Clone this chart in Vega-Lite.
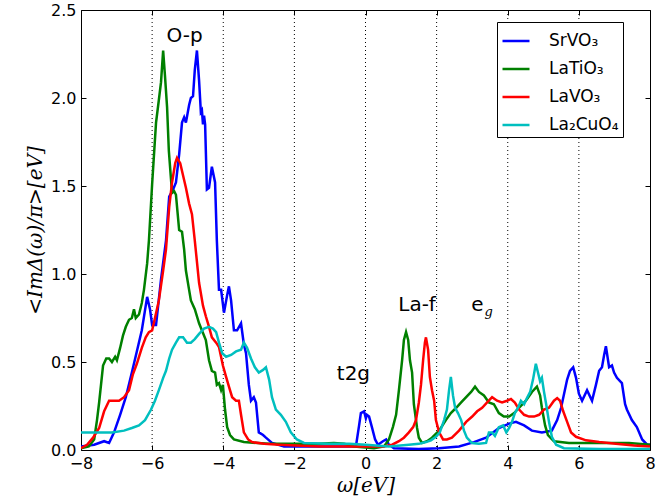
{
"$schema": "https://vega.github.io/schema/vega-lite/v6.json",
"width": 569, "height": 440,
"autosize": "none",
"padding": {"left": 81, "top": 10, "right": 20, "bottom": 54},
"background": "white",
"config": {"view": {"stroke": "black", "strokeWidth": 1}, "font": "DejaVu Sans"},
"datasets": {
"grid": [{"omega": -6}, {"omega": -4}, {"omega": -2}, {"omega": 0}, {"omega": 2}, {"omega": 4}, {"omega": 6}],
"labels": [
{"label": "O-p", "omega": -5.09, "dos": 2.32},
{"label": "t2g", "omega": -0.34, "dos": 0.40},
{"label": "La-f", "omega": 1.45, "dos": 0.79},
{"label": "e", "omega": 3.15, "dos": 0.79}
],
"sub": [{"label": "g", "omega": 3.46, "dos": 0.76}],
"dos": [
{"series":"SrVO₃","omega":-8.0,"dos":0.02},{"series":"SrVO₃","omega":-7.63,"dos":0.03},{"series":"SrVO₃","omega":-7.35,"dos":0.05},{"series":"SrVO₃","omega":-7.21,"dos":0.04},{"series":"SrVO₃","omega":-7.07,"dos":0.10},{"series":"SrVO₃","omega":-6.90,"dos":0.20},{"series":"SrVO₃","omega":-6.74,"dos":0.30},{"series":"SrVO₃","omega":-6.57,"dos":0.44},{"series":"SrVO₃","omega":-6.43,"dos":0.56},{"series":"SrVO₃","omega":-6.29,"dos":0.68},{"series":"SrVO₃","omega":-6.14,"dos":0.87},{"series":"SrVO₃","omega":-6.06,"dos":0.80},{"series":"SrVO₃","omega":-6.0,"dos":0.71},{"series":"SrVO₃","omega":-5.89,"dos":0.71},{"series":"SrVO₃","omega":-5.75,"dos":0.97},{"series":"SrVO₃","omega":-5.61,"dos":1.19},{"series":"SrVO₃","omega":-5.52,"dos":1.44},{"series":"SrVO₃","omega":-5.41,"dos":1.48},{"series":"SrVO₃","omega":-5.33,"dos":1.52},{"series":"SrVO₃","omega":-5.24,"dos":1.68},{"series":"SrVO₃","omega":-5.16,"dos":1.86},{"series":"SrVO₃","omega":-5.10,"dos":1.89},{"series":"SrVO₃","omega":-5.05,"dos":1.86},{"series":"SrVO₃","omega":-4.96,"dos":1.96},{"series":"SrVO₃","omega":-4.91,"dos":2.00},{"series":"SrVO₃","omega":-4.85,"dos":2.01},{"series":"SrVO₃","omega":-4.80,"dos":2.16},{"series":"SrVO₃","omega":-4.74,"dos":2.27},{"series":"SrVO₃","omega":-4.68,"dos":2.10},{"series":"SrVO₃","omega":-4.63,"dos":1.92},{"series":"SrVO₃","omega":-4.60,"dos":1.93},{"series":"SrVO₃","omega":-4.57,"dos":1.85},{"series":"SrVO₃","omega":-4.54,"dos":1.90},{"series":"SrVO₃","omega":-4.51,"dos":1.85},{"series":"SrVO₃","omega":-4.46,"dos":1.48},{"series":"SrVO₃","omega":-4.40,"dos":1.49},{"series":"SrVO₃","omega":-4.32,"dos":1.61},{"series":"SrVO₃","omega":-4.23,"dos":1.52},{"series":"SrVO₃","omega":-4.18,"dos":1.19},{"series":"SrVO₃","omega":-4.12,"dos":0.91},{"series":"SrVO₃","omega":-4.06,"dos":0.91},{"series":"SrVO₃","omega":-3.98,"dos":0.78},{"series":"SrVO₃","omega":-3.89,"dos":0.88},{"series":"SrVO₃","omega":-3.84,"dos":0.93},{"series":"SrVO₃","omega":-3.78,"dos":0.85},{"series":"SrVO₃","omega":-3.70,"dos":0.68},{"series":"SrVO₃","omega":-3.61,"dos":0.68},{"series":"SrVO₃","omega":-3.50,"dos":0.72},{"series":"SrVO₃","omega":-3.42,"dos":0.60},{"series":"SrVO₃","omega":-3.36,"dos":0.55},{"series":"SrVO₃","omega":-3.28,"dos":0.37},{"series":"SrVO₃","omega":-3.22,"dos":0.28},{"series":"SrVO₃","omega":-3.14,"dos":0.30},{"series":"SrVO₃","omega":-3.08,"dos":0.27},{"series":"SrVO₃","omega":-3.0,"dos":0.10},{"series":"SrVO₃","omega":-2.88,"dos":0.085},{"series":"SrVO₃","omega":-2.80,"dos":0.07},{"series":"SrVO₃","omega":-2.63,"dos":0.04},{"series":"SrVO₃","omega":-2.29,"dos":0.02},{"series":"SrVO₃","omega":-1.31,"dos":0.02},{"series":"SrVO₃","omega":-0.46,"dos":0.02},{"series":"SrVO₃","omega":-0.27,"dos":0.02},{"series":"SrVO₃","omega":-0.18,"dos":0.14},{"series":"SrVO₃","omega":-0.13,"dos":0.21},{"series":"SrVO₃","omega":-0.04,"dos":0.22},{"series":"SrVO₃","omega":0.01,"dos":0.18},{"series":"SrVO₃","omega":0.04,"dos":0.20},{"series":"SrVO₃","omega":0.10,"dos":0.19},{"series":"SrVO₃","omega":0.18,"dos":0.13},{"series":"SrVO₃","omega":0.27,"dos":0.06},{"series":"SrVO₃","omega":0.35,"dos":0.03},{"series":"SrVO₃","omega":0.49,"dos":0.05},{"series":"SrVO₃","omega":0.58,"dos":0.06},{"series":"SrVO₃","omega":0.66,"dos":0.03},{"series":"SrVO₃","omega":0.80,"dos":0.01},{"series":"SrVO₃","omega":1.50,"dos":0.005},{"series":"SrVO₃","omega":2.07,"dos":0.01},{"series":"SrVO₃","omega":2.63,"dos":0.02},{"series":"SrVO₃","omega":3.05,"dos":0.045},{"series":"SrVO₃","omega":3.39,"dos":0.07},{"series":"SrVO₃","omega":3.75,"dos":0.125},{"series":"SrVO₃","omega":4.04,"dos":0.15},{"series":"SrVO₃","omega":4.23,"dos":0.16},{"series":"SrVO₃","omega":4.46,"dos":0.14},{"series":"SrVO₃","omega":4.68,"dos":0.11},{"series":"SrVO₃","omega":4.96,"dos":0.10},{"series":"SrVO₃","omega":5.24,"dos":0.11},{"series":"SrVO₃","omega":5.39,"dos":0.17},{"series":"SrVO₃","omega":5.50,"dos":0.24},{"series":"SrVO₃","omega":5.67,"dos":0.40},{"series":"SrVO₃","omega":5.75,"dos":0.45},{"series":"SrVO₃","omega":5.84,"dos":0.47},{"series":"SrVO₃","omega":5.92,"dos":0.41},{"series":"SrVO₃","omega":6.00,"dos":0.32},{"series":"SrVO₃","omega":6.09,"dos":0.28},{"series":"SrVO₃","omega":6.23,"dos":0.34},{"series":"SrVO₃","omega":6.37,"dos":0.28},{"series":"SrVO₃","omega":6.48,"dos":0.37},{"series":"SrVO₃","omega":6.57,"dos":0.45},{"series":"SrVO₃","omega":6.65,"dos":0.47},{"series":"SrVO₃","omega":6.71,"dos":0.54},{"series":"SrVO₃","omega":6.76,"dos":0.59},{"series":"SrVO₃","omega":6.82,"dos":0.51},{"series":"SrVO₃","omega":6.85,"dos":0.47},{"series":"SrVO₃","omega":6.93,"dos":0.48},{"series":"SrVO₃","omega":6.99,"dos":0.44},{"series":"SrVO₃","omega":7.07,"dos":0.41},{"series":"SrVO₃","omega":7.21,"dos":0.38},{"series":"SrVO₃","omega":7.30,"dos":0.26},{"series":"SrVO₃","omega":7.35,"dos":0.23},{"series":"SrVO₃","omega":7.49,"dos":0.17},{"series":"SrVO₃","omega":7.63,"dos":0.13},{"series":"SrVO₃","omega":7.78,"dos":0.06},{"series":"SrVO₃","omega":7.92,"dos":0.03},{"series":"SrVO₃","omega":8.0,"dos":0.03},
{"series":"LaTiO₃","omega":-8.0,"dos":0.01},{"series":"LaTiO₃","omega":-7.78,"dos":0.02},{"series":"LaTiO₃","omega":-7.63,"dos":0.06},{"series":"LaTiO₃","omega":-7.55,"dos":0.17},{"series":"LaTiO₃","omega":-7.49,"dos":0.27},{"series":"LaTiO₃","omega":-7.38,"dos":0.48},{"series":"LaTiO₃","omega":-7.29,"dos":0.52},{"series":"LaTiO₃","omega":-7.21,"dos":0.52},{"series":"LaTiO₃","omega":-7.13,"dos":0.50},{"series":"LaTiO₃","omega":-7.04,"dos":0.53},{"series":"LaTiO₃","omega":-6.99,"dos":0.51},{"series":"LaTiO₃","omega":-6.90,"dos":0.58},{"series":"LaTiO₃","omega":-6.82,"dos":0.65},{"series":"LaTiO₃","omega":-6.74,"dos":0.70},{"series":"LaTiO₃","omega":-6.65,"dos":0.74},{"series":"LaTiO₃","omega":-6.57,"dos":0.75},{"series":"LaTiO₃","omega":-6.51,"dos":0.80},{"series":"LaTiO₃","omega":-6.46,"dos":0.75},{"series":"LaTiO₃","omega":-6.37,"dos":0.77},{"series":"LaTiO₃","omega":-6.29,"dos":0.835},{"series":"LaTiO₃","omega":-6.23,"dos":0.91},{"series":"LaTiO₃","omega":-6.14,"dos":1.06},{"series":"LaTiO₃","omega":-6.09,"dos":1.19},{"series":"LaTiO₃","omega":-6.0,"dos":1.51},{"series":"LaTiO₃","omega":-5.89,"dos":1.86},{"series":"LaTiO₃","omega":-5.81,"dos":1.99},{"series":"LaTiO₃","omega":-5.75,"dos":2.09},{"series":"LaTiO₃","omega":-5.69,"dos":2.27},{"series":"LaTiO₃","omega":-5.64,"dos":2.13},{"series":"LaTiO₃","omega":-5.58,"dos":1.95},{"series":"LaTiO₃","omega":-5.53,"dos":1.70},{"series":"LaTiO₃","omega":-5.44,"dos":1.46},{"series":"LaTiO₃","omega":-5.38,"dos":1.47},{"series":"LaTiO₃","omega":-5.33,"dos":1.45},{"series":"LaTiO₃","omega":-5.24,"dos":1.25},{"series":"LaTiO₃","omega":-5.16,"dos":1.24},{"series":"LaTiO₃","omega":-5.10,"dos":1.14},{"series":"LaTiO₃","omega":-5.05,"dos":1.02},{"series":"LaTiO₃","omega":-4.96,"dos":0.91},{"series":"LaTiO₃","omega":-4.91,"dos":0.85},{"series":"LaTiO₃","omega":-4.80,"dos":0.80},{"series":"LaTiO₃","omega":-4.68,"dos":0.72},{"series":"LaTiO₃","omega":-4.57,"dos":0.665},{"series":"LaTiO₃","omega":-4.49,"dos":0.625},{"series":"LaTiO₃","omega":-4.40,"dos":0.51},{"series":"LaTiO₃","omega":-4.32,"dos":0.45},{"series":"LaTiO₃","omega":-4.23,"dos":0.44},{"series":"LaTiO₃","omega":-4.18,"dos":0.37},{"series":"LaTiO₃","omega":-4.12,"dos":0.38},{"series":"LaTiO₃","omega":-4.06,"dos":0.34},{"series":"LaTiO₃","omega":-4.01,"dos":0.37},{"series":"LaTiO₃","omega":-3.95,"dos":0.23},{"series":"LaTiO₃","omega":-3.89,"dos":0.13},{"series":"LaTiO₃","omega":-3.81,"dos":0.085},{"series":"LaTiO₃","omega":-3.70,"dos":0.06},{"series":"LaTiO₃","omega":-3.42,"dos":0.045},{"series":"LaTiO₃","omega":-2.71,"dos":0.035},{"series":"LaTiO₃","omega":-1.31,"dos":0.035},{"series":"LaTiO₃","omega":-0.89,"dos":0.04},{"series":"LaTiO₃","omega":-0.60,"dos":0.035},{"series":"LaTiO₃","omega":-0.32,"dos":0.02},{"series":"LaTiO₃","omega":0.24,"dos":0.01},{"series":"LaTiO₃","omega":0.52,"dos":0.02},{"series":"LaTiO₃","omega":0.66,"dos":0.06},{"series":"LaTiO₃","omega":0.77,"dos":0.13},{"series":"LaTiO₃","omega":0.86,"dos":0.20},{"series":"LaTiO₃","omega":0.94,"dos":0.34},{"series":"LaTiO₃","omega":1.03,"dos":0.51},{"series":"LaTiO₃","omega":1.08,"dos":0.625},{"series":"LaTiO₃","omega":1.14,"dos":0.67},{"series":"LaTiO₃","omega":1.20,"dos":0.625},{"series":"LaTiO₃","omega":1.25,"dos":0.51},{"series":"LaTiO₃","omega":1.31,"dos":0.44},{"series":"LaTiO₃","omega":1.36,"dos":0.26},{"series":"LaTiO₃","omega":1.45,"dos":0.125},{"series":"LaTiO₃","omega":1.50,"dos":0.07},{"series":"LaTiO₃","omega":1.59,"dos":0.04},{"series":"LaTiO₃","omega":1.73,"dos":0.05},{"series":"LaTiO₃","omega":1.87,"dos":0.07},{"series":"LaTiO₃","omega":2.07,"dos":0.11},{"series":"LaTiO₃","omega":2.26,"dos":0.17},{"series":"LaTiO₃","omega":2.40,"dos":0.21},{"series":"LaTiO₃","omega":2.55,"dos":0.24},{"series":"LaTiO₃","omega":2.69,"dos":0.27},{"series":"LaTiO₃","omega":2.83,"dos":0.30},{"series":"LaTiO₃","omega":2.97,"dos":0.33},{"series":"LaTiO₃","omega":3.08,"dos":0.36},{"series":"LaTiO₃","omega":3.19,"dos":0.33},{"series":"LaTiO₃","omega":3.33,"dos":0.31},{"series":"LaTiO₃","omega":3.47,"dos":0.27},{"series":"LaTiO₃","omega":3.61,"dos":0.26},{"series":"LaTiO₃","omega":3.75,"dos":0.21},{"series":"LaTiO₃","omega":3.89,"dos":0.19},{"series":"LaTiO₃","omega":4.04,"dos":0.19},{"series":"LaTiO₃","omega":4.18,"dos":0.21},{"series":"LaTiO₃","omega":4.32,"dos":0.24},{"series":"LaTiO₃","omega":4.51,"dos":0.28},{"series":"LaTiO₃","omega":4.68,"dos":0.33},{"series":"LaTiO₃","omega":4.82,"dos":0.36},{"series":"LaTiO₃","omega":4.91,"dos":0.31},{"series":"LaTiO₃","omega":4.96,"dos":0.24},{"series":"LaTiO₃","omega":5.05,"dos":0.14},{"series":"LaTiO₃","omega":5.13,"dos":0.085},{"series":"LaTiO₃","omega":5.30,"dos":0.05},{"series":"LaTiO₃","omega":5.72,"dos":0.04},{"series":"LaTiO₃","omega":6.57,"dos":0.04},{"series":"LaTiO₃","omega":7.41,"dos":0.04},{"series":"LaTiO₃","omega":8.0,"dos":0.03},
{"series":"LaVO₃","omega":-8.0,"dos":0.01},{"series":"LaVO₃","omega":-7.83,"dos":0.03},{"series":"LaVO₃","omega":-7.66,"dos":0.07},{"series":"LaVO₃","omega":-7.49,"dos":0.125},{"series":"LaVO₃","omega":-7.35,"dos":0.22},{"series":"LaVO₃","omega":-7.21,"dos":0.28},{"series":"LaVO₃","omega":-7.07,"dos":0.28},{"series":"LaVO₃","omega":-6.93,"dos":0.28},{"series":"LaVO₃","omega":-6.79,"dos":0.30},{"series":"LaVO₃","omega":-6.65,"dos":0.34},{"series":"LaVO₃","omega":-6.54,"dos":0.43},{"series":"LaVO₃","omega":-6.43,"dos":0.49},{"series":"LaVO₃","omega":-6.29,"dos":0.58},{"series":"LaVO₃","omega":-6.18,"dos":0.64},{"series":"LaVO₃","omega":-6.09,"dos":0.67},{"series":"LaVO₃","omega":-6.0,"dos":0.68},{"series":"LaVO₃","omega":-5.92,"dos":0.75},{"series":"LaVO₃","omega":-5.81,"dos":0.85},{"series":"LaVO₃","omega":-5.69,"dos":1.02},{"series":"LaVO₃","omega":-5.61,"dos":1.14},{"series":"LaVO₃","omega":-5.52,"dos":1.38},{"series":"LaVO₃","omega":-5.44,"dos":1.52},{"series":"LaVO₃","omega":-5.35,"dos":1.63},{"series":"LaVO₃","omega":-5.30,"dos":1.66},{"series":"LaVO₃","omega":-5.21,"dos":1.63},{"series":"LaVO₃","omega":-5.13,"dos":1.56},{"series":"LaVO₃","omega":-5.05,"dos":1.49},{"series":"LaVO₃","omega":-4.96,"dos":1.40},{"series":"LaVO₃","omega":-4.88,"dos":1.34},{"series":"LaVO₃","omega":-4.80,"dos":1.19},{"series":"LaVO₃","omega":-4.68,"dos":0.95},{"series":"LaVO₃","omega":-4.57,"dos":0.82},{"series":"LaVO₃","omega":-4.49,"dos":0.76},{"series":"LaVO₃","omega":-4.40,"dos":0.70},{"series":"LaVO₃","omega":-4.32,"dos":0.64},{"series":"LaVO₃","omega":-4.20,"dos":0.61},{"series":"LaVO₃","omega":-4.12,"dos":0.585},{"series":"LaVO₃","omega":-4.01,"dos":0.48},{"series":"LaVO₃","omega":-3.92,"dos":0.415},{"series":"LaVO₃","omega":-3.84,"dos":0.36},{"series":"LaVO₃","omega":-3.75,"dos":0.30},{"series":"LaVO₃","omega":-3.64,"dos":0.28},{"series":"LaVO₃","omega":-3.56,"dos":0.28},{"series":"LaVO₃","omega":-3.50,"dos":0.20},{"series":"LaVO₃","omega":-3.42,"dos":0.10},{"series":"LaVO₃","omega":-3.30,"dos":0.06},{"series":"LaVO₃","omega":-3.19,"dos":0.045},{"series":"LaVO₃","omega":-2.85,"dos":0.035},{"series":"LaVO₃","omega":-2.43,"dos":0.03},{"series":"LaVO₃","omega":-1.31,"dos":0.02},{"series":"LaVO₃","omega":-0.18,"dos":0.02},{"series":"LaVO₃","omega":0.52,"dos":0.02},{"series":"LaVO₃","omega":0.75,"dos":0.03},{"series":"LaVO₃","omega":0.94,"dos":0.05},{"series":"LaVO₃","omega":1.08,"dos":0.07},{"series":"LaVO₃","omega":1.22,"dos":0.10},{"series":"LaVO₃","omega":1.34,"dos":0.13},{"series":"LaVO₃","omega":1.42,"dos":0.17},{"series":"LaVO₃","omega":1.50,"dos":0.27},{"series":"LaVO₃","omega":1.56,"dos":0.37},{"series":"LaVO₃","omega":1.62,"dos":0.51},{"series":"LaVO₃","omega":1.67,"dos":0.61},{"series":"LaVO₃","omega":1.70,"dos":0.64},{"series":"LaVO₃","omega":1.76,"dos":0.57},{"series":"LaVO₃","omega":1.81,"dos":0.415},{"series":"LaVO₃","omega":1.87,"dos":0.34},{"series":"LaVO₃","omega":1.93,"dos":0.28},{"series":"LaVO₃","omega":1.98,"dos":0.17},{"series":"LaVO₃","omega":2.07,"dos":0.10},{"series":"LaVO₃","omega":2.18,"dos":0.06},{"series":"LaVO₃","omega":2.29,"dos":0.06},{"series":"LaVO₃","omega":2.43,"dos":0.07},{"series":"LaVO₃","omega":2.63,"dos":0.11},{"series":"LaVO₃","omega":2.83,"dos":0.16},{"series":"LaVO₃","omega":3.0,"dos":0.19},{"series":"LaVO₃","omega":3.14,"dos":0.22},{"series":"LaVO₃","omega":3.28,"dos":0.24},{"series":"LaVO₃","omega":3.42,"dos":0.27},{"series":"LaVO₃","omega":3.56,"dos":0.30},{"series":"LaVO₃","omega":3.70,"dos":0.28},{"series":"LaVO₃","omega":3.84,"dos":0.27},{"series":"LaVO₃","omega":3.98,"dos":0.28},{"series":"LaVO₃","omega":4.09,"dos":0.29},{"series":"LaVO₃","omega":4.20,"dos":0.27},{"series":"LaVO₃","omega":4.32,"dos":0.23},{"series":"LaVO₃","omega":4.46,"dos":0.20},{"series":"LaVO₃","omega":4.60,"dos":0.19},{"series":"LaVO₃","omega":4.74,"dos":0.19},{"series":"LaVO₃","omega":4.88,"dos":0.20},{"series":"LaVO₃","omega":5.02,"dos":0.23},{"series":"LaVO₃","omega":5.16,"dos":0.24},{"series":"LaVO₃","omega":5.30,"dos":0.28},{"series":"LaVO₃","omega":5.39,"dos":0.295},{"series":"LaVO₃","omega":5.47,"dos":0.28},{"series":"LaVO₃","omega":5.56,"dos":0.22},{"series":"LaVO₃","omega":5.67,"dos":0.16},{"series":"LaVO₃","omega":5.78,"dos":0.10},{"series":"LaVO₃","omega":5.92,"dos":0.075},{"series":"LaVO₃","omega":6.20,"dos":0.055},{"series":"LaVO₃","omega":6.57,"dos":0.045},{"series":"LaVO₃","omega":7.04,"dos":0.035},{"series":"LaVO₃","omega":7.55,"dos":0.025},{"series":"LaVO₃","omega":8.0,"dos":0.02},
{"series":"La₂CuO₄","omega":-8.0,"dos":0.10},{"series":"La₂CuO₄","omega":-7.49,"dos":0.10},{"series":"La₂CuO₄","omega":-7.13,"dos":0.10},{"series":"La₂CuO₄","omega":-6.79,"dos":0.11},{"series":"La₂CuO₄","omega":-6.57,"dos":0.125},{"series":"La₂CuO₄","omega":-6.37,"dos":0.14},{"series":"La₂CuO₄","omega":-6.20,"dos":0.17},{"series":"La₂CuO₄","omega":-6.03,"dos":0.23},{"series":"La₂CuO₄","omega":-5.92,"dos":0.28},{"series":"La₂CuO₄","omega":-5.81,"dos":0.34},{"series":"La₂CuO₄","omega":-5.69,"dos":0.41},{"series":"La₂CuO₄","omega":-5.61,"dos":0.45},{"series":"La₂CuO₄","omega":-5.52,"dos":0.52},{"series":"La₂CuO₄","omega":-5.44,"dos":0.57},{"series":"La₂CuO₄","omega":-5.33,"dos":0.61},{"series":"La₂CuO₄","omega":-5.24,"dos":0.64},{"series":"La₂CuO₄","omega":-5.13,"dos":0.64},{"series":"La₂CuO₄","omega":-5.02,"dos":0.61},{"series":"La₂CuO₄","omega":-4.91,"dos":0.61},{"series":"La₂CuO₄","omega":-4.80,"dos":0.63},{"series":"La₂CuO₄","omega":-4.68,"dos":0.66},{"series":"La₂CuO₄","omega":-4.54,"dos":0.69},{"series":"La₂CuO₄","omega":-4.40,"dos":0.70},{"series":"La₂CuO₄","omega":-4.29,"dos":0.69},{"series":"La₂CuO₄","omega":-4.20,"dos":0.67},{"series":"La₂CuO₄","omega":-4.12,"dos":0.61},{"series":"La₂CuO₄","omega":-4.03,"dos":0.55},{"series":"La₂CuO₄","omega":-3.92,"dos":0.53},{"series":"La₂CuO₄","omega":-3.78,"dos":0.54},{"series":"La₂CuO₄","omega":-3.64,"dos":0.56},{"series":"La₂CuO₄","omega":-3.50,"dos":0.57},{"series":"La₂CuO₄","omega":-3.42,"dos":0.61},{"series":"La₂CuO₄","omega":-3.33,"dos":0.58},{"series":"La₂CuO₄","omega":-3.22,"dos":0.52},{"series":"La₂CuO₄","omega":-3.11,"dos":0.47},{"series":"La₂CuO₄","omega":-3.0,"dos":0.44},{"series":"La₂CuO₄","omega":-2.88,"dos":0.455},{"series":"La₂CuO₄","omega":-2.80,"dos":0.47},{"series":"La₂CuO₄","omega":-2.71,"dos":0.40},{"series":"La₂CuO₄","omega":-2.63,"dos":0.30},{"series":"La₂CuO₄","omega":-2.52,"dos":0.23},{"series":"La₂CuO₄","omega":-2.38,"dos":0.20},{"series":"La₂CuO₄","omega":-2.24,"dos":0.16},{"series":"La₂CuO₄","omega":-2.10,"dos":0.10},{"series":"La₂CuO₄","omega":-1.93,"dos":0.06},{"series":"La₂CuO₄","omega":-1.73,"dos":0.04},{"series":"La₂CuO₄","omega":-1.03,"dos":0.035},{"series":"La₂CuO₄","omega":-0.46,"dos":0.035},{"series":"La₂CuO₄","omega":0.01,"dos":0.03},{"series":"La₂CuO₄","omega":0.66,"dos":0.02},{"series":"La₂CuO₄","omega":1.22,"dos":0.03},{"series":"La₂CuO₄","omega":1.50,"dos":0.035},{"series":"La₂CuO₄","omega":1.70,"dos":0.045},{"series":"La₂CuO₄","omega":1.84,"dos":0.055},{"series":"La₂CuO₄","omega":1.98,"dos":0.075},{"series":"La₂CuO₄","omega":2.09,"dos":0.10},{"series":"La₂CuO₄","omega":2.21,"dos":0.17},{"series":"La₂CuO₄","omega":2.29,"dos":0.23},{"series":"La₂CuO₄","omega":2.35,"dos":0.34},{"series":"La₂CuO₄","omega":2.40,"dos":0.415},{"series":"La₂CuO₄","omega":2.46,"dos":0.31},{"series":"La₂CuO₄","omega":2.52,"dos":0.24},{"series":"La₂CuO₄","omega":2.60,"dos":0.21},{"series":"La₂CuO₄","omega":2.69,"dos":0.17},{"series":"La₂CuO₄","omega":2.77,"dos":0.11},{"series":"La₂CuO₄","omega":2.85,"dos":0.07},{"series":"La₂CuO₄","omega":2.99,"dos":0.04},{"series":"La₂CuO₄","omega":3.19,"dos":0.035},{"series":"La₂CuO₄","omega":3.39,"dos":0.04},{"series":"La₂CuO₄","omega":3.47,"dos":0.10},{"series":"La₂CuO₄","omega":3.56,"dos":0.10},{"series":"La₂CuO₄","omega":3.64,"dos":0.08},{"series":"La₂CuO₄","omega":3.75,"dos":0.13},{"series":"La₂CuO₄","omega":3.87,"dos":0.14},{"series":"La₂CuO₄","omega":3.96,"dos":0.10},{"series":"La₂CuO₄","omega":4.04,"dos":0.125},{"series":"La₂CuO₄","omega":4.12,"dos":0.16},{"series":"La₂CuO₄","omega":4.20,"dos":0.21},{"series":"La₂CuO₄","omega":4.29,"dos":0.24},{"series":"La₂CuO₄","omega":4.37,"dos":0.28},{"series":"La₂CuO₄","omega":4.46,"dos":0.26},{"series":"La₂CuO₄","omega":4.54,"dos":0.295},{"series":"La₂CuO₄","omega":4.63,"dos":0.33},{"series":"La₂CuO₄","omega":4.71,"dos":0.40},{"series":"La₂CuO₄","omega":4.79,"dos":0.49},{"series":"La₂CuO₄","omega":4.85,"dos":0.44},{"series":"La₂CuO₄","omega":4.91,"dos":0.39},{"series":"La₂CuO₄","omega":4.96,"dos":0.41},{"series":"La₂CuO₄","omega":5.02,"dos":0.33},{"series":"La₂CuO₄","omega":5.08,"dos":0.26},{"series":"La₂CuO₄","omega":5.16,"dos":0.16},{"series":"La₂CuO₄","omega":5.24,"dos":0.075},{"series":"La₂CuO₄","omega":5.36,"dos":0.03},{"series":"La₂CuO₄","omega":5.58,"dos":0.01},{"series":"La₂CuO₄","omega":6.57,"dos":0.005},{"series":"La₂CuO₄","omega":8.0,"dos":0.005}
]
},
"layer": [
{
"data": {"name": "grid"},
"mark": {"type": "rule", "color": "black", "strokeWidth": 1, "strokeDash": [1, 3]},
"encoding": {
"x": {"field": "omega", "type": "quantitative", "scale": {"domain": [-8, 8], "nice": false},
"axis": {"orient": "top", "values": [-8, -6, -4, -2, 0, 2, 4, 6, 8], "labels": false, "title": null, "domain": false, "grid": false, "ticks": true, "tickSize": -5, "tickColor": "black"}}
}
},
{
"data": {"name": "dos"},
"mark": {"type": "line", "strokeWidth": 2.5, "clip": true, "interpolate": "linear"},
"encoding": {
"x": {"field": "omega", "type": "quantitative", "scale": {"domain": [-8, 8], "nice": false},
"axis": {"orient": "bottom", "values": [-8, -6, -4, -2, 0, 2, 4, 6, 8], "format": "d", "title": "ω[eV]", "titleFont": "DejaVu Serif", "titleFontStyle": "italic", "titleFontWeight": "normal", "titleFontSize": 20, "titleColor": "black", "titlePadding": 4, "labelFontSize": 16, "labelColor": "black", "labelFont": "DejaVu Sans", "labelPadding": 10, "labelFlush": false, "labelOverlap": false, "domain": false, "grid": false, "tickSize": -5, "tickColor": "black"}},
"y": {"field": "dos", "type": "quantitative", "scale": {"domain": [0, 2.5], "nice": false},
"axis": {"orient": "left", "values": [0, 0.5, 1, 1.5, 2, 2.5], "format": ".1f", "title": "<ImΔ(ω)/π>[eV]", "titleFont": "DejaVu Serif", "titleFontStyle": "italic", "titleFontWeight": "normal", "titleFontSize": 20, "titleColor": "black", "titlePadding": 5, "labelFontSize": 16, "labelColor": "black", "labelFont": "DejaVu Sans", "labelPadding": 10, "labelFlush": false, "labelOverlap": false, "domain": false, "grid": false, "tickSize": -5, "tickColor": "black"}},
"color": {"field": "series", "type": "nominal",
"scale": {"domain": ["SrVO₃", "LaTiO₃", "LaVO₃", "La₂CuO₄"], "range": ["#0000ff", "#008000", "#ff0000", "#00bfbf"]},
"legend": {"orient": "none", "legendX": 416, "legendY": 12, "title": null, "symbolType": "stroke", "symbolSize": 729, "symbolStrokeWidth": 2.5, "labelFontSize": 17, "labelFont": "DejaVu Sans", "labelColor": "black", "labelOffset": 18, "strokeColor": "black", "fillColor": "white", "padding": 4, "rowPadding": 5}}
}
},
{
"data": {"name": "labels"},
"mark": {"type": "text", "fontSize": 20, "font": "DejaVu Sans", "color": "black", "baseline": "alphabetic", "align": "center"},
"encoding": {
"x": {"field": "omega", "type": "quantitative", "scale": {"domain": [-8, 8], "nice": false}, "axis": null},
"y": {"field": "dos", "type": "quantitative", "scale": {"domain": [0, 2.5], "nice": false},
"axis": {"orient": "right", "values": [0, 0.5, 1, 1.5, 2, 2.5], "labels": false, "title": null, "domain": false, "grid": false, "tickSize": -5, "tickColor": "black"}},
"text": {"field": "label"}
}
},
{
"data": {"name": "sub"},
"mark": {"type": "text", "fontSize": 13, "font": "DejaVu Serif", "fontStyle": "italic", "color": "black", "baseline": "alphabetic", "align": "center"},
"encoding": {
"x": {"field": "omega", "type": "quantitative", "scale": {"domain": [-8, 8], "nice": false}, "axis": null},
"y": {"field": "dos", "type": "quantitative", "scale": {"domain": [0, 2.5], "nice": false}, "axis": null},
"text": {"field": "label"}
}
}
],
"resolve": {"axis": {"x": "independent", "y": "independent"}}
}
